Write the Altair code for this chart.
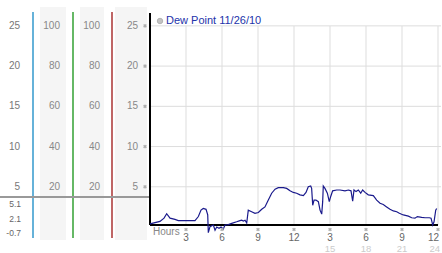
import altair as alt
import pandas as pd

# ---- data ----
hours = [0.0, 0.83, 1.17, 1.39, 1.67, 2.08, 2.36, 3.75, 4.03, 4.25, 4.44, 4.67, 4.81, 4.86,
         5.0, 5.28, 5.42, 5.56, 5.75, 5.92, 6.11, 6.25, 6.53, 6.81, 7.22, 7.5, 7.64, 7.78,
         7.92, 8.06, 8.19, 8.47, 8.75, 9.03, 9.31, 9.58, 9.86, 10.14, 10.42, 10.69, 11.11,
         11.39, 11.67, 11.94, 12.22, 12.5, 12.78, 13.0, 13.19, 13.39, 13.47, 13.56, 13.67,
         13.83, 14.03, 14.17, 14.31, 14.39, 14.44, 14.58, 14.78, 14.94, 15.06, 15.22, 15.56,
         15.83, 16.25, 16.53, 16.75, 16.89, 17.0, 17.17, 17.36, 17.56, 17.72, 17.92, 18.19,
         18.61, 18.89, 19.17, 19.44, 19.72, 20.0, 20.28, 20.56, 20.78, 21.11, 21.53, 21.81,
         22.08, 22.28, 22.64, 22.92, 23.28, 23.42, 23.56, 23.67, 23.81, 23.89]
dew = [0.4, 0.7, 1.1, 1.65, 1.1, 0.95, 0.8, 0.8, 1.3, 2.1, 2.3, 2.2, 1.5, -0.7,
       0.05, 0.25, -0.4, 0.0, -0.15, 0.0, -0.25, 0.25, 0.3, 0.45, 0.65, 0.8, 0.85, 0.75,
       0.85, 0.5, 2.1, 1.9, 1.7, 1.8, 2.2, 2.5, 3.35, 4.2, 4.7, 4.9, 4.9,
       4.8, 4.5, 4.3, 4.2, 4.0, 3.9, 4.3, 5.0, 5.1, 4.8, 2.7, 3.35,
       3.35, 3.15, 2.1, 1.6, 3.15, 5.1, 4.8, 4.2, 3.15, 3.8, 4.5, 4.6,
       4.6, 4.5, 4.6, 4.5, 3.2, 4.6, 4.4, 4.6, 4.2, 4.6, 4.3, 4.0,
       3.9, 3.35, 2.95, 2.8, 2.5, 2.2, 2.0, 1.9, 1.7, 1.5, 1.35, 1.15,
       1.1, 1.3, 1.2, 1.15, 1.15, 1.1, 0.25, 0.65, 2.1, 2.3]

grid_vals = [25, 20, 15, 10, 5]
temp_labels = ["25", "20", "15", "10", "5"]
rh_labels = ["100", "80", "60", "40", "20"]
stat_labels = ["5.1", "2.1", "-0.7"]
hour_ticks = [3, 6, 9, 12, 15, 18, 21, 24]
hour_labels = ["3", "6", "9", "12", "3", "6", "9", "12"]
second_row = [15, 18, 21, 24]
second_row_labels = ["15", "18", "21", "24"]
legend_title = "Dew Point 11/26/10"
hours_label = "Hours"

# ---- layout ----
W, H = 288, 212
FONT = "Liberation Sans"
xs = alt.Scale(domain=[0, 24], nice=False, zero=False)
ys = alt.Scale(domain=[0.25, 26.6], nice=False, zero=False)

line_df = pd.DataFrame({"h": hours, "v": dew})
lab_df = pd.DataFrame({"v": grid_vals, "t": temp_labels, "rh": rh_labels})
tick_df = pd.DataFrame({"h": hour_ticks, "t": hour_labels})
row2_df = pd.DataFrame({"h": second_row, "t": second_row_labels})
one = alt.Data(values=[{"k": 0}])

xq = dict(x=alt.X("h:Q", scale=xs, axis=None))
yq = dict(y=alt.Y("v:Q", scale=ys, axis=None))


def col(x1, x2):
    return alt.Chart(one).mark_rect(color="#f5f5f5").encode(
        x=alt.value(x1), x2=alt.value(x2), y=alt.value(-6), y2=alt.value(H + 15))


def vrule(x, color):
    return alt.Chart(one).mark_rule(color=color, strokeWidth=1.5).encode(
        x=alt.value(x), y=alt.value(-1), y2=alt.value(H + 13))


cols = [col(-110, -84), col(-70, -46), col(-35, -3)]
rules = [vrule(-117, "#3399cc"), vrule(-77, "#33a033"), vrule(-38, "#aa3333")]

sep = alt.Chart(one).mark_rule(color="#999999", strokeWidth=2).encode(
    x=alt.value(-150), x2=alt.value(-1), y=alt.value(184))

# grid (drawn through the scales)
hgrid = alt.Chart(lab_df).mark_rule(color="#dddddd", strokeWidth=1).encode(
    x=alt.value(0), x2=alt.value(W + 3), **yq)
vgrid = alt.Chart(tick_df).mark_rule(color="#dddddd", strokeWidth=1).encode(
    y=alt.value(13), y2=alt.value(H), **xq)

# axis lines
yaxis_line = alt.Chart(one).mark_rule(color="#000000", strokeWidth=2).encode(
    x=alt.value(0), y=alt.value(0), y2=alt.value(H))
xaxis_line = alt.Chart(one).mark_rule(color="#000000", strokeWidth=2).encode(
    x=alt.value(0), x2=alt.value(W), y=alt.value(H))

line = alt.Chart(line_df).mark_line(color="#1a1a8c", strokeWidth=1.2, clip=False).encode(
    **xq, **yq)


def ycol(x, field, color):
    return alt.Chart(lab_df).mark_text(align="right", baseline="middle", font=FONT,
                                       fontSize=10, color=color).encode(
        x=alt.value(x), text=f"{field}:N", **yq)


col1 = ycol(-130, "t", "#777777")
col2 = ycol(-90, "rh", "#888888")
col3 = ycol(-50, "rh", "#888888")
col4 = ycol(-12, "t", "#888888")

icon_mark = dict(shape="cross", angle=45, filled=True, size=14, color="#b0b0b0", opacity=1)
yicons = alt.Chart(lab_df).mark_point(**icon_mark).encode(x=alt.value(-5), **yq)

stats = alt.Chart(one).mark_text(text=stat_labels, align="right", baseline="middle",
                                 lineHeight=14.5, font=FONT, fontSize=8.5,
                                 color="#666666").encode(
    x=alt.value(-129), y=alt.value(191))

row1 = alt.Chart(tick_df).transform_filter("datum.h < 24").mark_text(
    baseline="middle", font=FONT, fontSize=10, color="#666666").encode(
    y=alt.value(224.5), text="t:N", **xq)
row1_last = alt.Chart(tick_df).transform_filter("datum.h == 24").mark_text(
    baseline="middle", align="right", dx=1, font=FONT, fontSize=10, color="#666666").encode(
    y=alt.value(224.5), text="t:N", **xq)
xicons = alt.Chart(tick_df).transform_filter("datum.h < 24").mark_point(**icon_mark).encode(
    y=alt.value(216.5), **xq)
xicon_last = alt.Chart(tick_df).transform_filter("datum.h == 24").mark_point(
    **icon_mark, dx=-5).encode(y=alt.value(216.5), **xq)
row2 = alt.Chart(row2_df).transform_filter("datum.h < 24").mark_text(
    baseline="middle", font=FONT, fontSize=9.5, color="#cccccc").encode(
    y=alt.value(235.5), text="t:N", **xq)
row2_last = alt.Chart(row2_df).transform_filter("datum.h == 24").mark_text(
    baseline="middle", align="right", dx=2, font=FONT, fontSize=9.5, color="#cccccc").encode(
    y=alt.value(235.5), text="t:N", **xq)

hours_txt = alt.Chart(one).mark_text(text=hours_label, align="left", baseline="middle",
                                     font=FONT, fontSize=10, color="#888888").encode(
    x=alt.value(3), y=alt.value(219))

leg_dot = alt.Chart(one).mark_point(filled=True, shape="circle", size=30, color="#aaaaaa",
                                    stroke="#888888", strokeWidth=0.8).encode(
    x=alt.value(10), y=alt.value(8))
leg_txt = alt.Chart(one).mark_text(text=legend_title, align="left", baseline="middle",
                                   font=FONT, fontSize=11, color="#2233aa").encode(
    x=alt.value(16), y=alt.value(8))

chart = alt.layer(
    *cols, *rules, sep, hgrid, vgrid, yaxis_line, xaxis_line, line,
    col1, col2, col3, col4, yicons, stats,
    row1, row1_last, xicons, xicon_last, row2, row2_last, hours_txt, leg_dot, leg_txt
).properties(
    width=W, height=H,
    autosize=alt.AutoSizeParams(type="none"),
    padding={"left": 150, "top": 13, "right": 4, "bottom": 28},
    background="white",
).configure_view(stroke=None)

chart.save("out.html", embed_options={"renderer": "svg", "actions": False})
